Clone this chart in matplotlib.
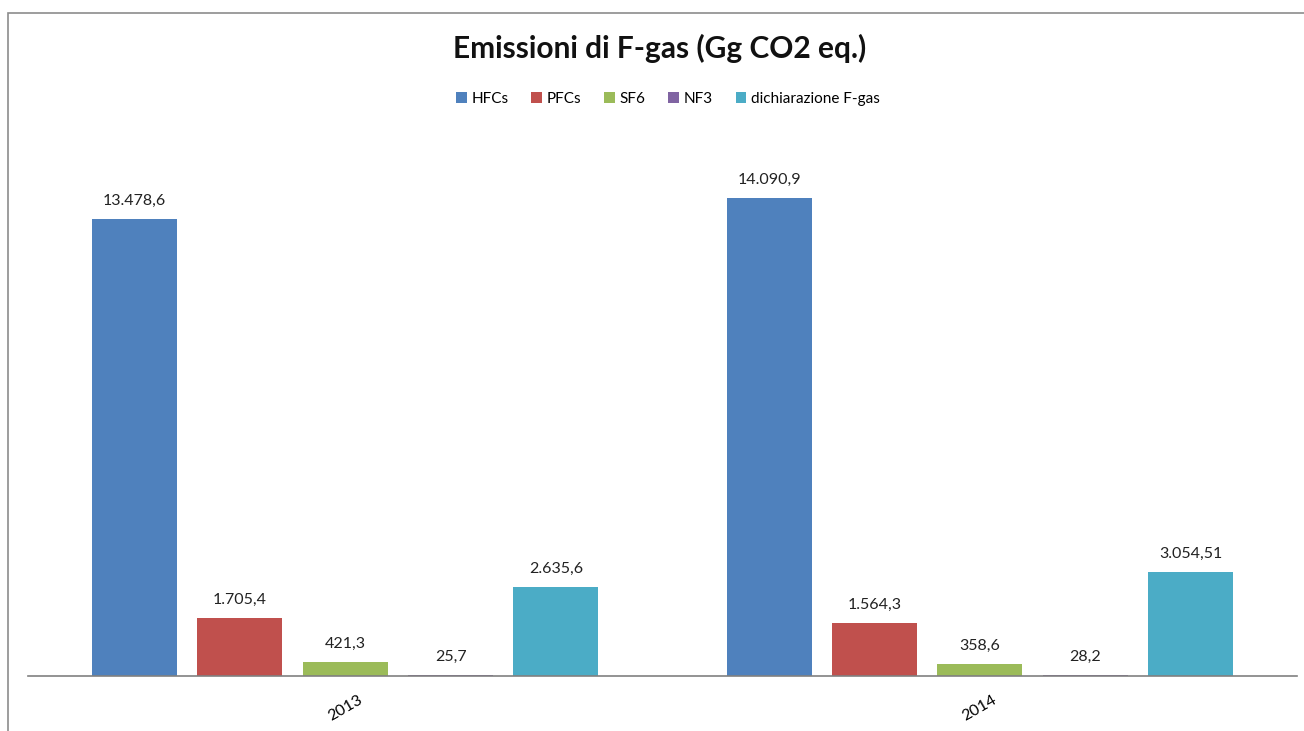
import numpy as np
import matplotlib.pyplot as plt
from matplotlib.patches import Rectangle

# Data
years = ['2013', '2014']
series = ['HFCs', 'PFCs', 'SF6', 'NF3', 'dichiarazione F-gas']
hfcs = [13478.6, 14090.9]
pfcs = [1705.4, 1564.3]
sf6 = [421.3, 358.6]
nf3 = [25.7, 28.2]
dich = [2635.6, 3054.51]
colors = ['#4F81BD', '#C0504D', '#9BBB59', '#8064A2', '#4BACC6']


def it_fmt(v):
    # Italian number format: dot thousands, comma decimals
    dec = 2 if round(v, 1) != v else 1
    s = f"{v:,.{dec}f}"
    return s.replace(',', 'X').replace('.', ',').replace('X', '.')


plt.rcParams['font.family'] = ['Lato', 'DejaVu Sans']

fig = plt.figure(figsize=(13.04, 7.31), dpi=100)
W, H = 1304, 731

# outer chart border
fig.patches.append(Rectangle((8 / W, -0.1), 1.2, 1 - 13 / H + 0.1,
                             transform=fig.transFigure, fill=False,
                             edgecolor='#8c8c8c', linewidth=1.2))

ax = fig.add_axes([28 / W, (H - 676) / H, (1297 - 28) / W, (676 - 140) / H])

x = np.arange(len(years))
width = 0.134
step = 0.166
all_vals = [hfcs, pfcs, sf6, nf3, dich]
for i, (name, vals, c) in enumerate(zip(series, all_vals, colors)):
    pos = x + (i - 2) * step
    ax.bar(pos, vals, width, color=c, label=name)
    for p, v in zip(pos, vals):
        ax.annotate(it_fmt(v), (p, v), xytext=(0, 8), textcoords='offset points',
                    ha='center', va='bottom', fontsize=11.5, color='#222222')

ax.set_xlim(-0.5, 1.5)
ax.set_ylim(0, 15811)
ax.set_yticks([])
ax.set_xticks(x)
ax.set_xticklabels(years, rotation=30, fontsize=11.5)
ax.tick_params(axis='x', length=0, pad=12)
for s in ['top', 'right', 'left']:
    ax.spines[s].set_visible(False)
ax.spines['bottom'].set_color('#808080')
ax.spines['bottom'].set_linewidth(1.2)

fig.text(660 / W, 1 - 48 / H, 'Emissioni di F-gas (Gg CO2 eq.)', ha='center',
         va='center', fontsize=21.5, fontweight='bold', color='#111111')
fig.legend(loc='center', bbox_to_anchor=(668 / W, 1 - 99 / H), ncol=5,
           frameon=False, fontsize=11, handlelength=0.7, handleheight=0.7,
           handletextpad=0.3, columnspacing=1.5)

fig.savefig('out.png', dpi=100)
